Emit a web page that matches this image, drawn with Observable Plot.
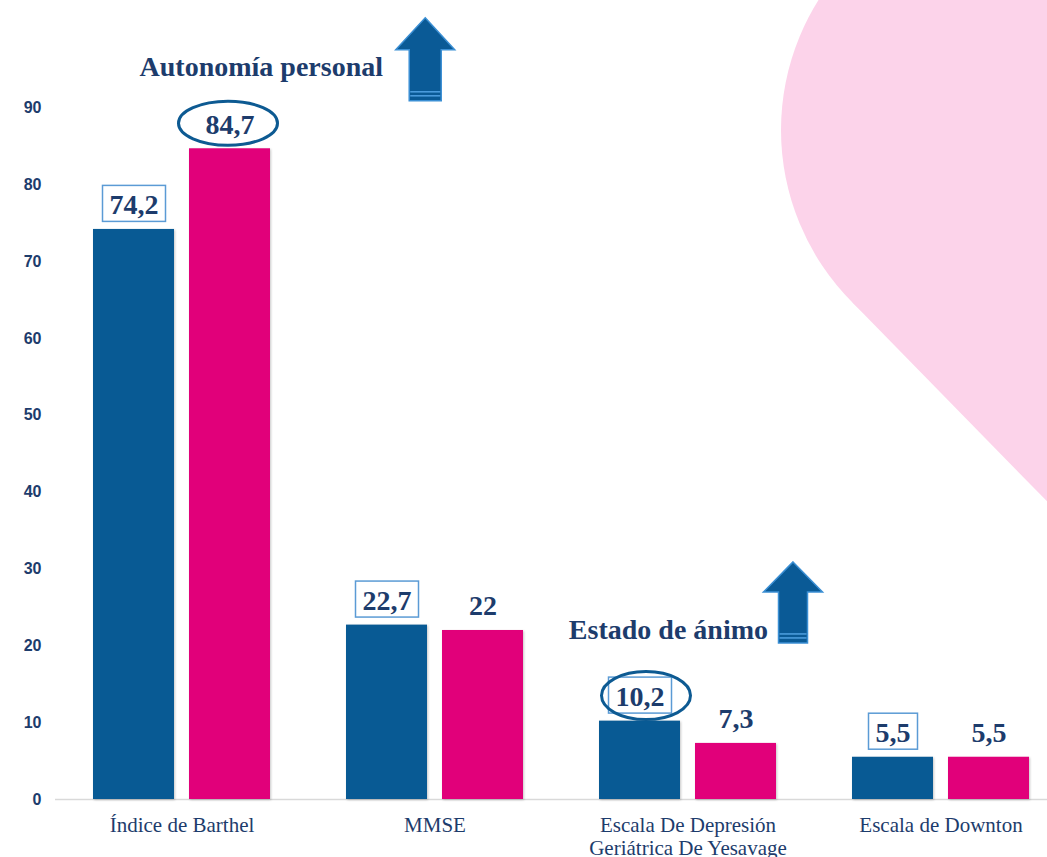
<!DOCTYPE html>
<html><head><meta charset="utf-8">
<script src="https://cdn.jsdelivr.net/npm/d3@7"></script>
<script src="https://cdn.jsdelivr.net/npm/@observablehq/plot@0.6"></script>
<style>
body{margin:0;background:#fff;}
#wrap{position:relative;width:1047px;height:857px;overflow:hidden;}
#bg{position:absolute;left:0;top:0;}
#chart{position:absolute;left:0;top:0;}
g[aria-description="bars"] rect{filter:drop-shadow(1.5px 1.5px 1px rgba(0,0,0,0.22));}
</style></head><body>
<div id="wrap"><svg id="bg" width="1047" height="857"></svg><div id="chart"></div></div>
<script>
// ---- data ----
const categories = ["Índice de Barthel", "MMSE", "Escala De Depresión\nGeriátrica De Yesavage", "Escala de Downton"];
const seriesKeys = ["A", "B"];
const seriesA = [74.2, 22.7, 10.2, 5.5];
const seriesB = [84.7, 22, 7.3, 5.5];
const labelsA = ["74,2", "22,7", "10,2", "5,5"];
const labelsB = ["84,7", "22", "7,3", "5,5"];
const circledA = [false, false, true, false];
const circledB = [true, false, false, false];
const yTicks = [0, 10, 20, 30, 40, 50, 60, 70, 80, 90];
const annotationTexts = ["Autonomía personal", "Estado de ánimo"];
const annotationCats = [categories[0], categories[2]];
const annotationY = [95.3, 22.0];

// ---- styles ----
const BLUE = "#085a94", PINK = "#e1007a", NAVY = "#1d3c6c";
const SERIF = "Liberation Serif";

// background decorative lobe
const bg = d3.select("#bg");
bg.append("circle").attr("cx", 1025).attr("cy", 130).attr("r", 244).attr("fill", "#fcd3ea");
bg.append("polygon").attr("points", "852.5,302.5 1025,130 1300,130 1300,760").attr("fill", "#fcd3ea");

const data = [];
categories.forEach((c, i) => {
  data.push({cat: c, series: "A", value: seriesA[i], label: labelsA[i], circled: circledA[i]});
  data.push({cat: c, series: "B", value: seriesB[i], label: labelsB[i], circled: circledB[i]});
});
const annotations = annotationTexts.map((t, i) => ({text: t, cat: annotationCats[i], y: annotationY[i]}));
const annotDx = [153, 32];

const valueText = {fx: "cat", x: "series", y: "value", text: "label", dy: -24, lineAnchor: "middle",
  fontFamily: SERIF, fontWeight: "bold", fontSize: 28, fill: NAVY};

const plot = Plot.plot({
  width: 1047, height: 857,
  marginLeft: 53, marginRight: -21, marginTop: 0, marginBottom: 58,
  style: {background: "transparent", fontFamily: "Liberation Sans", overflow: "visible"},
  fx: {domain: categories, padding: 0, axis: null},
  x: {domain: seriesKeys, paddingInner: 0.16, paddingOuter: 0.39, axis: null},
  y: {domain: [0, 104], axis: null},
  color: {domain: seriesKeys, range: [BLUE, PINK]},
  marks: [
    Plot.axisY(yTicks, {tickSize: 0, tickPadding: 14, fontSize: 16, fontWeight: "bold", fill: NAVY, label: null, tickFormat: d => d}),
    Plot.ruleY([0], {stroke: "#d9d9d9", strokeWidth: 1.5}),
    Plot.barY(data, {fx: "cat", x: "series", y: "value", fill: "series", ariaDescription: "bars"}),
    Plot.text(data.filter(d => d.series === "A"), {...valueText, ariaDescription: "boxed"}),
    Plot.text(data.filter(d => d.series === "B"), {...valueText, ariaDescription: "plain"}),
    Plot.text(data.filter(d => d.circled), {...valueText, fill: "none", ariaDescription: "circled"}),
    Plot.text(categories, {fx: d => d, text: d => d, frameAnchor: "bottom", lineAnchor: "top", dy: 16,
      fontFamily: SERIF, fontSize: 21, lineHeight: 1.1, fill: NAVY}),
    ...annotations.map((a, i) => Plot.text([a], {fx: "cat", x: () => "B", y: "y", text: "text", textAnchor: "end", dx: annotDx[i],
      fontFamily: SERIF, fontWeight: "bold", fontSize: 28, fill: NAVY, ariaDescription: "annot" + i}))
  ]
});
document.getElementById("chart").appendChild(plot);

const sr = plot.getBoundingClientRect();
function bb(el) { const r = el.getBoundingClientRect(); return {x: r.left - sr.left, y: r.top - sr.top, w: r.width, h: r.height}; }
const overlay = d3.select(plot).append("g").attr("aria-label", "decorations");

plot.querySelectorAll('g[aria-description="boxed"] text').forEach(t => {
  const b = bb(t);
  overlay.append("rect").attr("x", b.x - 7).attr("y", b.y - 4).attr("width", b.w + 14).attr("height", b.h + 5)
    .attr("fill", "none").attr("stroke", "#5b9bd5").attr("stroke-width", 1.5);
});
const ellipseStyle = [{dx: -2, padX: 25, ry: 22}, {dx: 6, padX: 20, ry: 24}];
plot.querySelectorAll('g[aria-description="circled"] text').forEach((t, i) => {
  const b = bb(t), s = ellipseStyle[i];
  overlay.append("ellipse").attr("cx", b.x + b.w / 2 + s.dx).attr("cy", b.y + b.h / 2 - 1)
    .attr("rx", b.w / 2 + s.padX).attr("ry", s.ry)
    .attr("fill", "none").attr("stroke", "#0d5a92").attr("stroke-width", 3);
});
const arrowStyle = [
  {dx: 42, apex: -49, base: -17, bottom: 34, head: 29.5, body: 16},
  {dx: 25, apex: -68, base: -38, bottom: 13, head: 29.5, body: 14.5}
];
arrowStyle.forEach((s, i) => {
  const t = plot.querySelector(`g[aria-description="annot${i}"] text`);
  if (!t) return;
  const b = bb(t);
  const cx = b.x + b.w + s.dx, cy = b.y + b.h / 2;
  const p = [[cx, cy + s.apex], [cx + s.head, cy + s.base], [cx + s.body, cy + s.base], [cx + s.body, cy + s.bottom],
             [cx - s.body, cy + s.bottom], [cx - s.body, cy + s.base], [cx - s.head, cy + s.base]];
  overlay.append("polygon").attr("points", p.map(q => q.join(",")).join(" "))
    .attr("fill", "#0a5a96").attr("stroke", "#3b8fd4").attr("stroke-width", 1.5);
  [-9, -5].forEach(o => overlay.append("line").attr("x1", cx - s.body + 1).attr("x2", cx + s.body - 1)
    .attr("y1", cy + s.bottom + o).attr("y2", cy + s.bottom + o).attr("stroke", "#4fa0e0").attr("stroke-width", 1.5));
});
</script>
</body></html>
